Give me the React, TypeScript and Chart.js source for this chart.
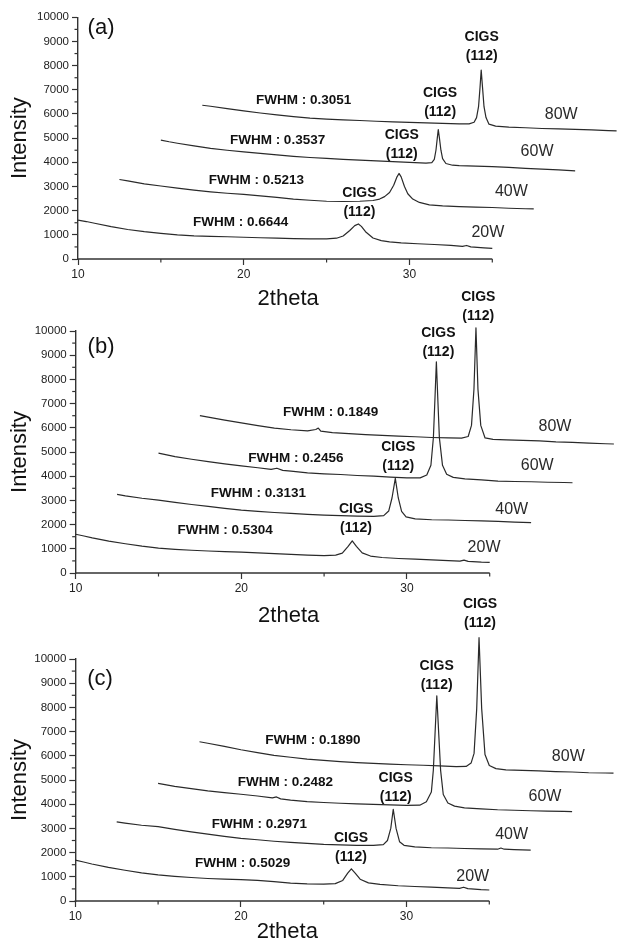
import { useEffect, useRef } from 'react';
import { Chart, registerables } from 'chart.js';

Chart.register(...registerables);

// ---------- data (2theta as plotted, intensity) ----------
// Panel (a)
const A20: [number, number][] = [[10,1610],[10.5,1550],[11,1480],[12,1340],[13,1220],[14,1130],[15,1060],[16,1000],[17,960],[18,940],[19,920],[20,900],[21,880],[22,860],[23,840],[24,830],[25,830],[25.6,860],[26.0,950],[26.4,1180],[26.7,1380],[26.92,1450],[27.1,1350],[27.35,1130],[27.8,870],[28.3,760],[28.8,710],[29.5,670],[30.5,630],[31.5,600],[32.5,560],[33.2,520],[33.45,560],[33.7,500],[34.5,460],[35,440]];
const A40: [number, number][] = [[12.5,3290],[13,3230],[14,3110],[15,3020],[16,2930],[17,2850],[18,2780],[19,2720],[20,2670],[21,2610],[22,2550],[23,2480],[24,2430],[25,2390],[26,2380],[27,2390],[27.8,2420],[28.2,2480],[28.5,2580],[28.8,2750],[29.05,3050],[29.25,3400],[29.37,3540],[29.5,3400],[29.7,3000],[29.9,2700],[30.2,2480],[30.6,2340],[31.2,2240],[32,2200],[33,2170],[34,2150],[35,2130],[36,2100],[37,2080],[37.5,2070]];
const A60: [number, number][] = [[15,4920],[15.5,4850],[16,4790],[17,4680],[18,4580],[19,4500],[20,4430],[21,4370],[22,4310],[23,4250],[24,4200],[25,4160],[26,4120],[27,4090],[28,4060],[29,4030],[30,4000],[31,3970],[31.35,3990],[31.5,4120],[31.6,4500],[31.68,5000],[31.74,5350],[31.81,5000],[31.9,4500],[32.0,4150],[32.2,3950],[32.6,3880],[33,3860],[34,3840],[35,3820],[36,3790],[37,3750],[38,3720],[39,3690],[40,3650]];
const A80: [number, number][] = [[17.5,6360],[18,6320],[19,6220],[20,6130],[21,6040],[22,5960],[23,5890],[24,5830],[25,5790],[26,5760],[27,5730],[28,5700],[29,5670],[30,5650],[31,5630],[32,5610],[33,5590],[33.6,5590],[33.9,5660],[34.05,5850],[34.17,6300],[34.26,7100],[34.33,7820],[34.41,7100],[34.5,6300],[34.62,5850],[34.8,5580],[35.2,5500],[36,5460],[37,5430],[38,5400],[39,5380],[40,5360],[41,5340],[42,5310],[42.5,5300]];

// Panel (b)
const B20: [number, number][] = [[10,1600],[10.5,1530],[11,1450],[12,1320],[13,1210],[14,1110],[15,1030],[16,980],[17,940],[18,910],[19,880],[20,860],[21,830],[22,800],[23,770],[24,740],[25,720],[25.7,740],[26.1,820],[26.45,1100],[26.7,1330],[26.95,1100],[27.3,830],[27.8,700],[28.5,640],[29.5,600],[30.5,570],[31.5,540],[32.5,510],[33.2,490],[33.45,530],[33.7,480],[34.5,450],[35,440]];
const B40: [number, number][] = [[12.5,3250],[13,3190],[14,3090],[15,3010],[16,2920],[17,2830],[18,2750],[19,2670],[20,2600],[21,2550],[22,2500],[23,2460],[24,2420],[25,2390],[26,2370],[27,2350],[28,2340],[28.6,2370],[28.9,2560],[29.1,3100],[29.3,3910],[29.48,3100],[29.68,2550],[29.95,2320],[30.5,2240],[31.5,2200],[32.5,2190],[33.5,2170],[34.5,2150],[35.5,2130],[36.5,2100],[37.5,2080]];
const B60: [number, number][] = [[15,4950],[15.5,4880],[16,4810],[17,4700],[18,4600],[19,4510],[20,4430],[21,4350],[21.8,4280],[22.15,4330],[22.5,4240],[23,4210],[24,4140],[25,4100],[26,4070],[27,4030],[28,4000],[29,3960],[30,3930],[30.8,3930],[31.2,4050],[31.45,4450],[31.6,5600],[31.7,7300],[31.78,8730],[31.86,7300],[31.96,5600],[32.15,4450],[32.4,4080],[32.8,3950],[33.5,3890],[34.5,3850],[35.5,3800],[36.5,3780],[37.5,3770],[38.5,3750],[39.5,3740],[40,3730]];
const B80: [number, number][] = [[17.5,6500],[18,6440],[19,6320],[20,6200],[21,6090],[22,5990],[23,5920],[24,5870],[24.5,5930],[24.65,5990],[24.8,5860],[25.5,5800],[26.5,5760],[27.5,5720],[28.5,5690],[29.5,5660],[30.5,5630],[31.5,5600],[32.5,5580],[33.3,5570],[33.7,5640],[33.9,6100],[34.05,7600],[34.17,10130],[34.29,7600],[34.46,6100],[34.72,5580],[35.2,5520],[36,5500],[37,5480],[38,5460],[39,5420],[40,5400],[41,5370],[42,5340],[42.5,5330]];

// Panel (c)
const C20: [number, number][] = [[10,1690],[10.5,1610],[11,1530],[12,1390],[13,1270],[14,1160],[15,1080],[16,1020],[17,970],[18,930],[19,900],[20,880],[21,850],[22,800],[23,740],[24,710],[25,700],[25.7,720],[26.15,850],[26.45,1150],[26.67,1330],[26.9,1150],[27.2,900],[27.7,750],[28.4,690],[29.5,630],[30.5,600],[31.5,570],[32.5,540],[33.2,520],[33.45,570],[33.7,510],[34.5,470],[35,455]];
const C40: [number, number][] = [[12.5,3270],[13,3220],[14,3130],[15,3070],[16,2960],[17,2860],[18,2760],[19,2670],[20,2590],[21,2530],[22,2470],[23,2420],[24,2380],[25,2340],[26,2320],[27,2300],[28,2300],[28.6,2330],[28.85,2500],[29.05,3000],[29.2,3790],[29.37,3000],[29.58,2450],[29.85,2300],[30.5,2240],[31.5,2200],[32.5,2190],[33.5,2170],[34.5,2150],[35.5,2140],[35.7,2190],[35.9,2140],[36.5,2120],[37.5,2100]];
const C60: [number, number][] = [[15,4860],[15.5,4800],[16,4740],[17,4640],[18,4550],[19,4480],[20,4410],[21,4340],[21.9,4260],[22.15,4300],[22.4,4220],[23,4170],[24,4110],[25,4070],[26,4040],[27,4010],[28,3990],[29,3970],[30,3950],[30.8,3960],[31.2,4100],[31.5,4500],[31.62,5400],[31.72,6860],[31.83,8480],[31.95,6860],[32.06,5400],[32.22,4400],[32.5,4050],[32.9,3920],[33.5,3850],[34.5,3810],[35.5,3770],[36.5,3750],[37.5,3730],[38.5,3710],[39.5,3700],[40,3690]];
const C80: [number, number][] = [[17.5,6580],[18,6520],[19,6390],[20,6250],[21,6130],[22,6020],[23,5940],[24,5860],[25,5810],[26,5760],[27,5720],[28,5690],[29,5660],[30,5630],[31,5610],[32,5580],[33,5550],[33.6,5560],[33.9,5700],[34.08,6100],[34.24,7950],[34.38,10880],[34.54,7950],[34.74,6050],[35.0,5600],[35.4,5470],[36,5420],[37,5400],[38,5380],[39,5350],[40,5330],[41,5300],[42,5290],[42.5,5280]];

// Labels
const POWER_LABELS = ['20W', '40W', '60W', '80W'];
const FWHM_A = ['FWHM : 0.6644', 'FWHM : 0.5213', 'FWHM : 0.3537', 'FWHM : 0.3051'];
const FWHM_B = ['FWHM : 0.5304', 'FWHM : 0.3131', 'FWHM : 0.2456', 'FWHM : 0.1849'];
const FWHM_C = ['FWHM : 0.5029', 'FWHM : 0.2971', 'FWHM : 0.2482', 'FWHM : 0.1890'];
const PEAK_NAME = 'CIGS';
const PEAK_HKL = '(112)';
const X_TITLE = '2theta';
const Y_TITLE = 'Intensity';

// Axes
const X_MIN = 10;
const X_AXIS_END = 35;
const X_TICKS = [10, 20, 30];
const X_MINOR = [15, 25, 35];
const Y_MINOR = [500, 1500, 2500, 3500, 4500, 5500, 6500, 7500, 8500, 9500];

// ---------- styling / layout ----------
const FONT = '"Liberation Sans", Arial, Helvetica, sans-serif';
const AXIS = '#333';
const LINE = '#2a2a2a';
const W = 617;
const H = 945;

type Pt = [number, number];
interface Panel {
  tag: string;
  series: Pt[][];
  fwhm: string[];
  tagAt: Pt;
  fwhmAt: Pt[];
  hklAt: Pt[];
  powerAt: Pt[];
  box: { left: number; right: number; top: number; bottom: number; titleGap: number; titleShift: number };
}

const PANELS: Panel[] = [
  {
    tag: '(a)', series: [A20, A40, A60, A80], fwhm: FWHM_A,
    tagAt: [11.39, 9578],
    fwhmAt: [[19.81, 1518], [20.77, 3269], [22.04, 4923], [23.61, 6578]],
    hklAt: [[26.98, 1957], [29.54, 4332], [31.85, 6070], [34.36, 8399]],
    powerAt: [[34.73, 1105], [36.15, 2785], [37.70, 4439], [39.16, 5987]],
    box: { left: 78, right: 492.3, top: 17.3, bottom: 259, titleGap: 40, titleShift: 3 },
  },
  {
    tag: '(b)', series: [B20, B40, B60, B80], fwhm: FWHM_B,
    tagAt: [11.53, 9360],
    fwhmAt: [[19.03, 1777], [21.03, 3293], [23.29, 4740], [25.40, 6624]],
    hklAt: [[26.93, 1872], [29.48, 4421], [31.90, 9145], [34.31, 10620]],
    powerAt: [[34.66, 1062], [36.33, 2632], [37.87, 4421], [38.94, 6045]],
    box: { left: 75.7, right: 489.7, top: 331, bottom: 573, titleGap: 43, titleShift: 6 },
  },
  {
    tag: '(c)', series: [C20, C40, C60, C80], fwhm: FWHM_C,
    tagAt: [11.49, 9174],
    fwhmAt: [[20.10, 1558], [21.12, 3169], [22.69, 4888], [24.34, 6653]],
    hklAt: [[26.65, 1831], [29.35, 4285], [31.82, 8926], [34.44, 11475]],
    powerAt: [[34.0, 1004], [36.35, 2756], [38.36, 4310], [39.77, 5963]],
    box: { left: 75.3, right: 489.3, top: 659, bottom: 901, titleGap: 31, titleShift: 5 },
  },
];

// axis line (only up to 35), minor ticks
const axisDecor = {
  id: 'axisDecor',
  afterDraw(chart: any) {
    const { ctx, scales, chartArea } = chart;
    const x = scales.x;
    const y = scales.y;
    ctx.save();
    ctx.strokeStyle = AXIS;
    ctx.lineWidth = 1.4;
    ctx.beginPath();
    ctx.moveTo(x.getPixelForValue(X_MIN) - 0.7, chartArea.bottom);
    ctx.lineTo(x.getPixelForValue(X_AXIS_END), chartArea.bottom);
    ctx.stroke();
    ctx.lineWidth = 1.2;
    Y_MINOR.forEach((v) => {
      const py = y.getPixelForValue(v);
      ctx.beginPath();
      ctx.moveTo(chartArea.left - 3.5, py);
      ctx.lineTo(chartArea.left, py);
      ctx.stroke();
    });
    X_MINOR.forEach((v) => {
      const px = x.getPixelForValue(v);
      ctx.beginPath();
      ctx.moveTo(px, chartArea.bottom);
      ctx.lineTo(px, chartArea.bottom + 3.5);
      ctx.stroke();
    });
    ctx.restore();
  },
};

function notesPlugin(p: Panel) {
  return {
    id: 'notes',
    afterDraw(chart: any) {
      const { ctx, scales, chartArea } = chart;
      const X = (v: number) => scales.x.getPixelForValue(v);
      const Y = (v: number) => scales.y.getPixelForValue(v);
      ctx.save();
      ctx.textAlign = 'center';
      ctx.textBaseline = 'middle';
      ctx.fillStyle = '#111';
      // x-axis title, centred under the drawn axis (10..35)
      ctx.font = `22px ${FONT}`;
      ctx.fillText(X_TITLE, (X(X_MIN) + X(X_AXIS_END)) / 2 + p.box.titleShift, chartArea.bottom + p.box.titleGap);
      ctx.fillText(p.tag, X(p.tagAt[0]), Y(p.tagAt[1]));
      ctx.font = `bold 13.5px ${FONT}`;
      p.fwhm.forEach((t, i) => ctx.fillText(t, X(p.fwhmAt[i][0]), Y(p.fwhmAt[i][1])));
      ctx.font = `bold 14px ${FONT}`;
      p.hklAt.forEach(([hx, hy]) => {
        const px = X(hx);
        const py = Y(hy);
        ctx.fillText(PEAK_HKL, px, py);
        ctx.fillText(PEAK_NAME, px, py - 19);
      });
      ctx.font = `16px ${FONT}`;
      ctx.fillStyle = '#2a2a2a';
      POWER_LABELS.forEach((t, i) => ctx.fillText(t, X(p.powerAt[i][0]), Y(p.powerAt[i][1])));
      ctx.restore();
    },
  };
}

function makeConfig(p: Panel): any {
  const b = p.box;
  const padLeft = 7;
  const xBand = 30;
  // x scale keeps the same 10..35 pixel span, but continues to the canvas edge
  const xMax = X_MIN + (X_AXIS_END - X_MIN) * (W - b.left) / (b.right - b.left);
  return {
    type: 'line',
    data: {
      datasets: p.series.map((s, i) => ({
        label: POWER_LABELS[i],
        data: s.map(([x, y]) => ({ x, y })),
        borderColor: LINE,
        borderWidth: 1.2,
        borderJoinStyle: 'round',
        pointRadius: 0,
        tension: 0,
        fill: false,
        clip: false,
      })),
    },
    options: {
      animation: false,
      responsive: false,
      devicePixelRatio: 1,
      events: [],
      layout: {
        padding: { left: padLeft, right: 0, top: b.top, bottom: Math.max(0, H - b.bottom - xBand) },
      },
      plugins: { legend: { display: false }, tooltip: { enabled: false } },
      scales: {
        x: {
          type: 'linear',
          min: X_MIN,
          max: xMax,
          afterBuildTicks: (s: any) => { s.ticks = X_TICKS.map((value) => ({ value })); },
          afterFit: (s: any) => { s.height = xBand; },
          grid: { display: true, drawOnChartArea: false, drawTicks: true, tickLength: 6, tickColor: AXIS, tickWidth: 1.2 },
          border: { display: false },
          ticks: { color: '#222', font: { family: FONT, size: 12 }, padding: 2, maxRotation: 0, autoSkip: false, callback: (v: any) => String(v) },
          title: { display: false },
        },
        y: {
          type: 'linear',
          min: 0,
          max: 10000,
          afterFit: (s: any) => { s.width = b.left - padLeft; },
          grid: { display: true, drawOnChartArea: false, drawTicks: true, tickLength: 6, tickColor: AXIS, tickWidth: 1.2 },
          border: { display: true, color: AXIS, width: 1.4 },
          ticks: { stepSize: 1000, color: '#222', font: { family: FONT, size: 11.5 }, padding: 3, autoSkip: false, callback: (v: any) => String(v) },
          title: { display: true, text: Y_TITLE, color: '#111', font: { family: FONT, size: 22 }, padding: 0 },
        },
      },
    },
    plugins: [axisDecor, notesPlugin(p)],
  };
}

export default function App() {
  const r0 = useRef<HTMLCanvasElement>(null);
  const r1 = useRef<HTMLCanvasElement>(null);
  const r2 = useRef<HTMLCanvasElement>(null);
  const refs = [r0, r1, r2];

  useEffect(() => {
    const charts = PANELS.map((p, i) => new Chart(refs[i].current as HTMLCanvasElement, makeConfig(p)));
    return () => charts.forEach((c) => c.destroy());
  }, []);

  return (
    <div style={{ position: 'absolute', left: 0, top: 0, width: W, height: H, background: '#fff', overflow: 'hidden' }}>
      {PANELS.map((p, i) => (
        <canvas
          key={p.tag}
          ref={refs[i]}
          width={W}
          height={H}
          style={{ position: 'absolute', left: 0, top: 0, width: W, height: H }}
        />
      ))}
    </div>
  );
}
